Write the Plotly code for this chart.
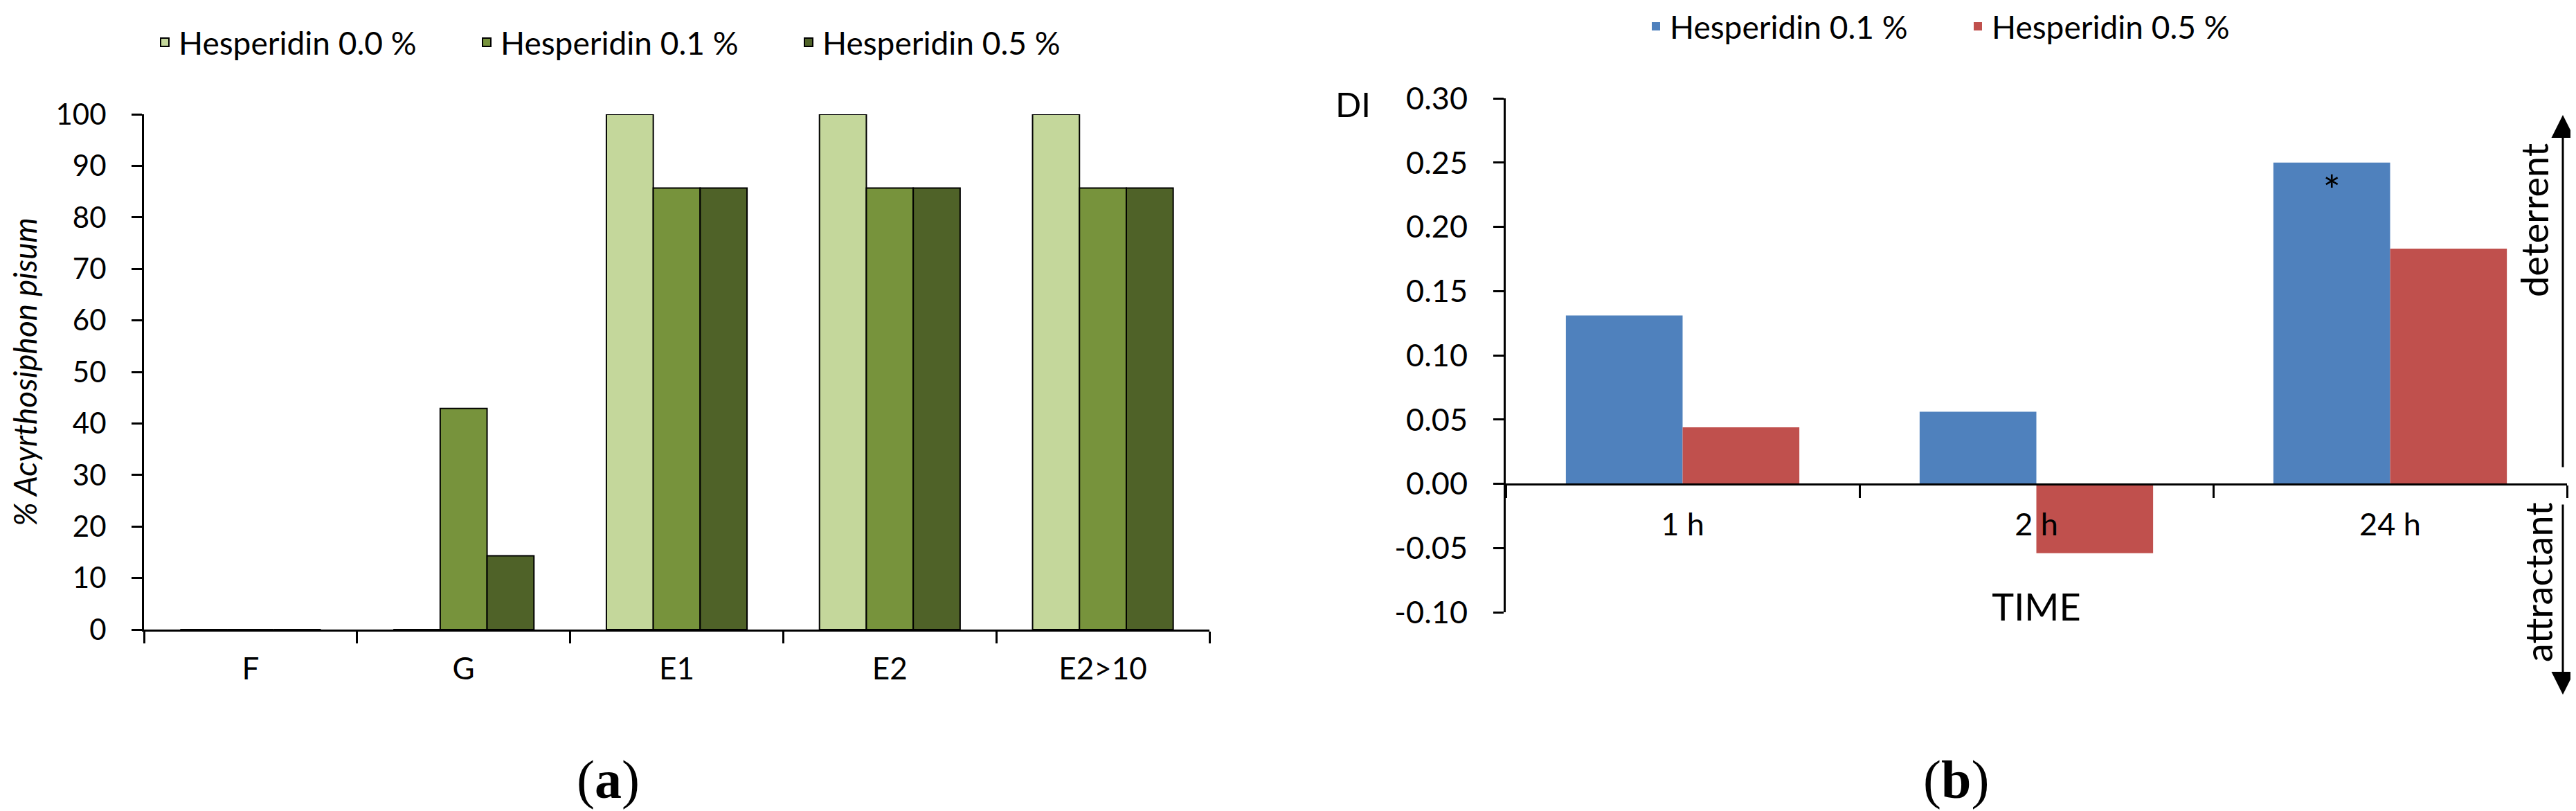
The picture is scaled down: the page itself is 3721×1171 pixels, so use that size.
import plotly.graph_objects as go

W, H = 3721, 1171

# ---- data, panel (a)
stages = ["F", "G", "E1", "E2", "E2>10"]
hesp_00 = [0, 0, 100, 100, 100]
hesp_01 = [0, 42.9, 85.7, 85.7, 85.7]
hesp_05 = [0, 14.3, 85.7, 85.7, 85.7]
series_a_names = ["Hesperidin 0.0 %", "Hesperidin 0.1 %", "Hesperidin 0.5 %"]
a_ticks = [0, 10, 20, 30, 40, 50, 60, 70, 80, 90, 100]

# ---- data, panel (b)
times = ["1 h", "2 h", "24 h"]
di_01 = [0.131, 0.056, 0.250]
di_05 = [0.044, -0.054, 0.183]
sig_01 = ["", "", "*"]
series_b_names = ["Hesperidin 0.1 %", "Hesperidin 0.5 %"]
b_ticks = [-0.10, -0.05, 0.00, 0.05, 0.10, 0.15, 0.20, 0.25, 0.30]
b_ticklabels = ["-0.10", "-0.05", "0.00", "0.05", "0.10", "0.15", "0.20", "0.25", "0.30"]

FONT = "Lato, 'Open Sans', Arial, sans-serif"
SERIF = "'Liberation Serif', 'DejaVu Serif', serif"
greens = ["#C4D79B", "#77933C", "#4F6228"]
b_colors = ["#4F81BD", "#C0504D"]


def px(x):
    return x / W


def py(y):
    return 1 - y / H


fig = go.Figure()
for name, vals, col in zip(series_a_names, [hesp_00, hesp_01, hesp_05], greens):
    fig.add_trace(go.Bar(x=stages, y=vals, name=name,
                         marker=dict(color=col, line=dict(color="black", width=2)),
                         xaxis="x", yaxis="y", legend="legend"))

fig.add_trace(go.Bar(x=times, y=di_01, name=series_b_names[0],
                     marker=dict(color=b_colors[0], line=dict(width=0)),
                     text=sig_01, textposition="inside", insidetextanchor="end", textangle=0,
                     textfont=dict(size=60, color="black", family=FONT),
                     xaxis="x2", yaxis="y2", legend="legend2"))
fig.add_trace(go.Bar(x=times, y=di_05, name=series_b_names[1],
                     marker=dict(color=b_colors[1], line=dict(width=0)),
                     xaxis="x2", yaxis="y2", legend="legend2"))

ya_dom = [py(901), py(157)]
yb_dom = [py(876), py(134)]
yb_rng = [-0.10, 0.30]
zero_pos = yb_dom[0] + (0 - yb_rng[0]) / (yb_rng[1] - yb_rng[0]) * (yb_dom[1] - yb_dom[0])

axis_common = dict(showgrid=False, zeroline=False, showline=True, linecolor="black", linewidth=3,
                   ticks="outside", tickcolor="black", tickwidth=3, automargin=False)

fig.update_layout(
    width=W, height=H, margin=dict(l=0, r=0, t=0, b=0, pad=0, autoexpand=False),
    paper_bgcolor="white", plot_bgcolor="white",
    font=dict(family=FONT, color="black", size=42),
    barmode="group", bargap=0.34,
    showlegend=True,
    xaxis=dict(domain=[px(200), px(1739)], anchor="y", tickson="boundaries", ticklen=17,
               tickfont=dict(size=44), ticklabelstandoff=16, **axis_common),
    yaxis=dict(domain=ya_dom, anchor="x", range=[0, 100], tickvals=a_ticks, ticklen=15,
               tickfont=dict(size=42), ticklabelstandoff=28,
               title=dict(text="<i>% Acyrthosiphon pisum</i>", font=dict(size=46), standoff=22),
               **axis_common),
    xaxis2=dict(domain=[px(2167), px(3700)], anchor="free", position=zero_pos, tickson="boundaries",
                ticklen=18, tickfont=dict(size=45), ticklabelstandoff=18,
                title=dict(text="TIME", font=dict(size=54), standoff=76), **axis_common),
    yaxis2=dict(domain=yb_dom, anchor="x2", range=yb_rng, tickvals=b_ticks, ticktext=b_ticklabels,
                ticklen=15, tickfont=dict(size=45), ticklabelstandoff=28, **axis_common),
    legend=dict(orientation="h", x=px(210), y=py(53), xanchor="left", yanchor="middle",
                font=dict(size=46), entrywidth=420, bgcolor="rgba(0,0,0,0)"),
    legend2=dict(orientation="h", x=px(2364), y=py(30), xanchor="left", yanchor="middle",
                 font=dict(size=46), entrywidth=420, bgcolor="rgba(0,0,0,0)"),
)

center = dict(xref="paper", yref="paper", showarrow=False, xanchor="center", yanchor="middle")
annotations = [
    dict(text="(<b>a</b>)", x=px(870), y=py(1117), font=dict(family=SERIF, size=78), **center),
    dict(text="(<b>b</b>)", x=px(2817), y=py(1117), font=dict(family=SERIF, size=78), **center),
    dict(text="DI", x=px(1946), y=py(142), font=dict(size=49), **center),
    dict(text="deterrent", x=px(3652), y=py(310), textangle=-90, font=dict(size=54), **center),
    dict(text="attractant", x=px(3658), y=py(833), textangle=-90, font=dict(size=54), **center),
    dict(text="", x=px(3694), y=py(158), xref="paper", yref="paper", showarrow=True, ax=0, ay=668 - 158,
         arrowhead=2, arrowsize=2.2, arrowwidth=3, arrowcolor="black"),
    dict(text="", x=px(3694), y=py(995), xref="paper", yref="paper", showarrow=True, ax=0, ay=719 - 995,
         arrowhead=2, arrowsize=2.2, arrowwidth=3, arrowcolor="black"),
]
fig.update_layout(annotations=annotations)

fig.write_html("out.html")
